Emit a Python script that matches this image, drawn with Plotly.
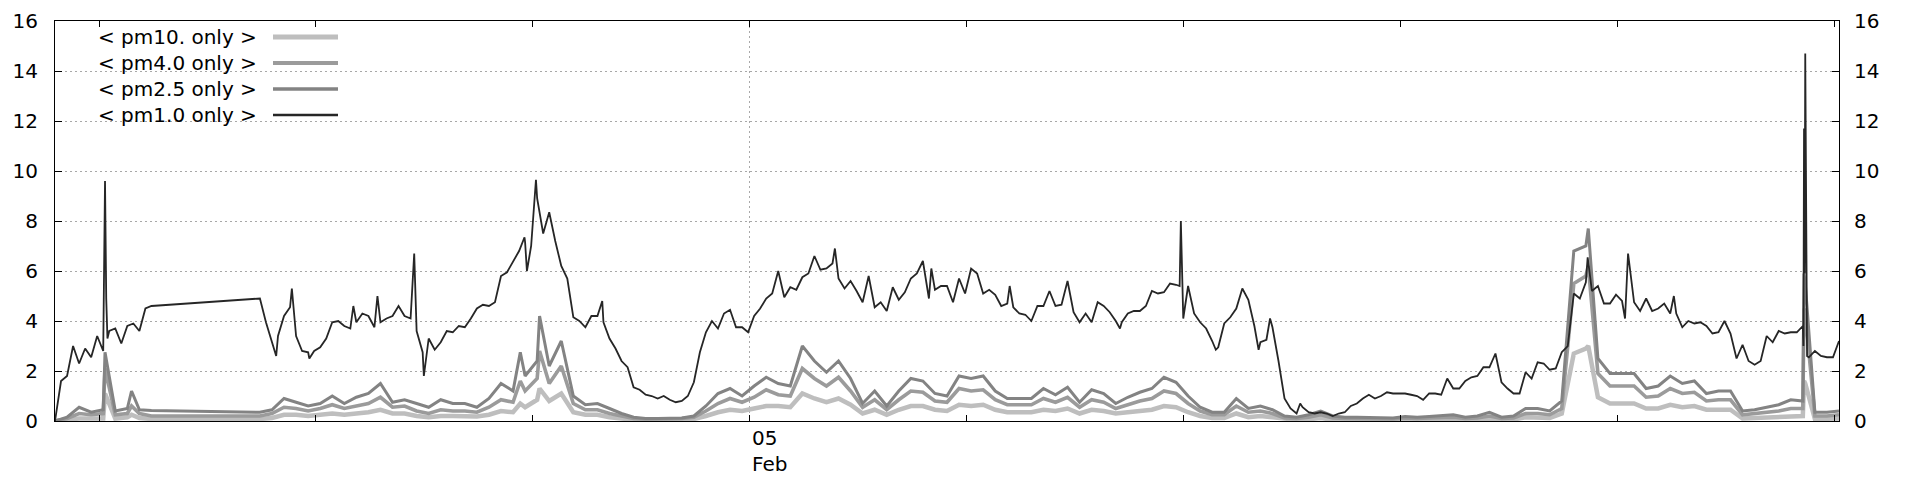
import numpy as np
import pandas as pd
import plotly.graph_objects as go

# ---------------- data ----------------
START = pd.Timestamp("2025-02-04 04:47")
END = START + pd.Timedelta(minutes=2960)

# pm1.0 sampled every 10 minutes (None = no data, gnuplot joins across)
pm1_step_min = 10
pm1_values = [
    0.0, 1.6, 1.8, 3.0, 2.3, 2.9, 2.55, 3.4, 2.8, 3.6, 3.7, 3.1, 3.8, 3.9, 3.6, 4.5, 4.6,
    None, None, 4.65, None, None, 4.7, None, None, None, 4.77, None, None, 4.83, None, None, None, None,
    4.9, 3.95, 3.1, 3.4, 4.2, 4.55, 3.4, 2.8, 2.75, 2.8, 2.95, 3.3, 3.95, 4.0, 3.8, 3.7,
    3.95, 4.3, 4.2, 3.75, 3.95, 4.1, 4.2, 4.6, 4.2,
    4.1, 3.6, 2.75, 3.3, 2.85, 3.15, 3.6, 3.55, 3.8, 3.75, 4.1, 4.5, 4.65, 4.6, 4.75, 5.8,
    5.95, 6.35, 6.8, 7.15, 7.0, 8.9, 7.5, 8.35, 7.2, 6.2, 5.7, 4.15, 4.0, 3.75, 4.2, 4.2,
    3.95, 3.3, 2.9, 2.4, 2.15, 1.35, 1.25, 1.05, 1.0, 0.9, 1.0, 0.85, 0.75, 0.8, 1.0, 1.55,
    2.75, 3.55, 4.0, 3.7, 4.3, 4.45, 3.75, 3.75, 3.55, 4.2, 4.5, 4.9,
    5.1, 6.0, 4.95, 5.35, 5.25, 5.75, 5.9, 6.6, 6.05, 6.1, 6.3, 5.7, 5.3, 5.6, 5.2, 4.75,
    5.8, 4.55, 4.75, 4.4, 5.35, 4.85, 5.15, 5.7, 5.9, 6.4, 4.9, 5.25, 5.4, 5.4, 4.75, 5.7,
    5.1, 6.1, 5.9, 5.1, 5.25, 5.05, 4.6, 4.7, 4.55, 4.3, 4.25, 4.0, 4.6, 4.6, 5.2, 4.6,
    4.65, 5.6, 4.35, 3.95, 4.3, 3.95, 4.75, 4.6, 4.35, 4.0, 3.95, 4.3,
    4.4, 4.4, 4.6, 5.2, 5.1, 5.15, 5.5, 5.45, 5.8, 5.4, 4.3, 3.95, 3.7, 3.2, 2.95, 3.9,
    4.15, 4.5, 5.3, 4.85, 3.8, 3.15, 3.25, 3.75, 2.4, 0.9, 0.5, 0.3, 0.55, 0.35, 0.3, 0.35,
    0.3, 0.2, 0.3, 0.35, 0.6, 0.7, 0.9, 1.05, 0.9, 1.0, 1.15, 1.1, 1.1, 1.1, 1.05, 1.0,
    0.85, 1.1, 1.1, 1.05, 1.7, 1.3, 1.3, 1.6, 1.75, 1.8, 2.15,
    2.15, 2.7, 1.55, 1.3, 1.1, 1.1, 1.95, 1.7, 2.35, 2.3, 2.05, 2.1, 2.75, 3.0, 5.1, 4.9,
    5.55, 5.2, 5.4, 4.7, 4.7, 5.05, 4.8, 6.7, 4.75, 4.4, 4.9, 4.4, 4.5, 4.7, 4.3, 4.3,
    3.75, 4.0, 3.9, 3.95, 3.8, 3.5, 3.55, 4.0, 3.5, 2.5, 3.05, 2.4, 2.25, 2.4, 3.4, 3.15,
    3.6, 3.5, 3.55, 3.55, 3.8, 2.55, 2.8, 2.6, 2.55, 2.55, 3.2,
]
# short spikes between the 10-minute samples (minutes after START)
pm1_extra_min = [81, 82, 83, 85, 87, 367, 393, 422, 495, 535, 596, 612, 779, 783, 798, 908,
                 1294, 1454, 1584, 1767, 1866, 1868, 1872, 1926, 1997, 2016, 2066,
                 2543, 2605, 2686, 2901, 2902, 2903, 2904, 2905, 2906, 2907]
pm1_extra_val = [4.5, 8.1, 9.6, 4.9, 3.3, 2.6, 5.3, 2.5, 4.6, 5.0, 6.7, 1.8, 7.35, 6.0, 9.65, 4.8,
                 6.9, 6.1, 5.4, 3.7, 5.4, 8.0, 4.1, 2.85, 2.85, 4.1, 0.7,
                 6.55, 4.1, 5.0, 3.0, 11.7, 5.9, 14.7, 11.6, 5.6, 2.6]

# coarser fractions sampled every 20 minutes
gray_step_min = 20
pm25_values = [
    0.0, 0.15, 0.55, 0.35, 0.45, 0.4, 0.5, 0.45, 0.42,
    None, None, None, None, None, None, None, None,
    0.35, 0.45, 0.9, 0.75, 0.6, 0.7, 1.0, 0.7, 0.95, 1.1, 1.5, 0.75, 0.85,
    0.7, 0.55, 0.85, 0.7, 0.7, 0.55, 0.9, 1.5, 1.2, 1.8, 2.4, 2.2, 3.2, 1.0, 0.65, 0.7,
    0.5, 0.3, 0.15, 0.1, 0.1, 0.1, 0.12, 0.2, 0.6, 1.1, 1.3, 1.0, 1.4, 1.75,
    1.5, 1.4, 3.0, 2.4, 1.95, 2.4, 1.7, 0.7, 1.2, 0.6, 1.2, 1.7, 1.6, 1.1, 1.0, 1.8,
    1.7, 1.8, 1.2, 0.9, 0.9, 0.9, 1.3, 1.05, 1.35, 0.75, 1.25, 1.1, 0.7,
    0.95, 1.15, 1.3, 1.75, 1.55, 1.0, 0.55, 0.35, 0.35, 0.9, 0.5, 0.6, 0.45, 0.2, 0.15, 0.25,
    0.4, 0.2, 0.15, 0.15, 0.15, 0.15, 0.12, 0.18, 0.15, 0.18, 0.2, 0.25, 0.15, 0.2,
    0.35, 0.15, 0.2, 0.5, 0.5, 0.4, 0.8, 6.8, 7.0, 2.5, 1.9, 1.9, 1.9, 1.3, 1.4, 1.8,
    1.5, 1.6, 1.1, 1.2, 1.2, 0.4, 0.45, 0.55, 0.65, 0.85, 0.8, 0.35, 0.35, 0.4,
]
pm40_values = [
    0.0, 0.1, 0.3, 0.25, 0.3, 0.25, 0.3, 0.3, 0.2,
    None, None, None, None, None, None, None, None,
    0.2, 0.3, 0.55, 0.5, 0.4, 0.5, 0.65, 0.5, 0.6, 0.7, 0.95, 0.55, 0.6,
    0.4, 0.3, 0.45, 0.4, 0.4, 0.35, 0.55, 0.85, 0.75, 1.2, 1.7, 1.5, 2.2, 0.7, 0.45, 0.45,
    0.3, 0.2, 0.1, 0.08, 0.08, 0.08, 0.1, 0.15, 0.4, 0.7, 0.9, 0.75, 0.95, 1.25,
    1.05, 1.0, 2.1, 1.7, 1.4, 1.75, 1.2, 0.55, 0.85, 0.45, 0.85, 1.2, 1.15, 0.8, 0.75, 1.3,
    1.2, 1.25, 0.85, 0.65, 0.65, 0.65, 0.9, 0.75, 0.95, 0.55, 0.85, 0.75, 0.5,
    0.65, 0.8, 0.9, 1.2, 1.1, 0.7, 0.4, 0.25, 0.25, 0.6, 0.35, 0.4, 0.3, 0.12, 0.1, 0.15,
    0.25, 0.12, 0.1, 0.1, 0.1, 0.1, 0.08, 0.12, 0.1, 0.12, 0.12, 0.15, 0.1, 0.12,
    0.2, 0.1, 0.12, 0.3, 0.3, 0.25, 0.5, 5.5, 5.8, 1.9, 1.4, 1.4, 1.4, 0.95, 1.0, 1.3,
    1.1, 1.15, 0.8, 0.85, 0.85, 0.25, 0.3, 0.35, 0.4, 0.5, 0.5, 0.2, 0.2, 0.25,
]
pm10_values = [
    0.0, 0.05, 0.1, 0.1, 0.1, 0.1, 0.15, 0.12, 0.08,
    None, None, None, None, None, None, None, None,
    0.08, 0.12, 0.25, 0.25, 0.2, 0.25, 0.3, 0.25, 0.3, 0.35, 0.45, 0.3, 0.3,
    0.2, 0.15, 0.2, 0.2, 0.2, 0.18, 0.25, 0.4, 0.35, 0.55, 0.85, 0.8, 1.1, 0.35, 0.25, 0.25,
    0.15, 0.1, 0.05, 0.05, 0.05, 0.05, 0.05, 0.08, 0.2, 0.35, 0.45, 0.4, 0.5, 0.6,
    0.6, 0.55, 1.1, 0.9, 0.75, 0.9, 0.65, 0.3, 0.45, 0.25, 0.45, 0.6, 0.6, 0.45, 0.4, 0.65,
    0.6, 0.65, 0.45, 0.35, 0.35, 0.35, 0.45, 0.4, 0.5, 0.3, 0.45, 0.4, 0.3,
    0.35, 0.4, 0.45, 0.6, 0.55, 0.35, 0.2, 0.12, 0.12, 0.3, 0.15, 0.2, 0.15, 0.06, 0.05, 0.07,
    0.12, 0.05, 0.05, 0.05, 0.05, 0.05, 0.04, 0.06, 0.05, 0.06, 0.06, 0.08, 0.05, 0.06,
    0.08, 0.05, 0.06, 0.15, 0.15, 0.12, 0.3, 2.7, 2.9, 0.95, 0.7, 0.7, 0.7, 0.5, 0.5, 0.65,
    0.55, 0.6, 0.45, 0.45, 0.45, 0.1, 0.12, 0.15, 0.15, 0.2, 0.2, 0.08, 0.08, 0.1,
]
gray_extra_min = [83, 127, 772, 804, 2544, 2902, 2904]
pm25_extra_val = [2.75, 1.2, 2.75, 4.2, 7.7, 5.9, 5.5]
pm40_extra_val = [2.1, 0.6, 1.6, 2.8, 6.2, 4.5, 4.3]
pm10_extra_val = [1.1, 0.25, 0.7, 1.3, 3.0, 1.6, 1.5]

series_names = ["< pm10. only >", "< pm4.0 only >", "< pm2.5 only >", "< pm1.0 only >"]

DAY_TICK = pd.Timestamp("2025-02-05 00:00")
minor_ticks = pd.date_range("2025-02-04 06:00", "2025-02-06 06:00", freq="6h")
y_ticks = [0, 2, 4, 6, 8, 10, 12, 14, 16]


def build(values, step, extra_min, extra_val):
    base = pd.DataFrame({"m": [i * step for i in range(len(values))], "v": values})
    ext = pd.DataFrame({"m": extra_min, "v": extra_val})
    df = pd.concat([base, ext], ignore_index=True)
    df["v"] = df["v"].astype(float)
    df = df.sort_values("m")
    df["t"] = START + pd.to_timedelta(df["m"], unit="min")
    return df


pm10_df = build(pm10_values, gray_step_min, gray_extra_min, pm10_extra_val)
pm40_df = build(pm40_values, gray_step_min, gray_extra_min, pm40_extra_val)
pm25_df = build(pm25_values, gray_step_min, gray_extra_min, pm25_extra_val)
pm1_df = build(pm1_values, pm1_step_min, pm1_extra_min, pm1_extra_val)

# ---------------- styling ----------------
FONT = "DejaVu Sans"
FS = 20
colors = ["#bebebe", "#9b9b9b", "#838383", "#262626"]
widths = [4.5, 3.6, 3.0, 1.8]
GRID = "#a8a8a8"

fig = go.Figure()
for df, name, c, w, yax in [
    (pm10_df, series_names[0], colors[0], widths[0], "y"),
    (pm40_df, series_names[1], colors[1], widths[1], "y"),
    (pm25_df, series_names[2], colors[2], widths[2], "y"),
    (pm1_df, series_names[3], colors[3], widths[3], "y2"),
]:
    fig.add_trace(go.Scatter(x=df["t"], y=df["v"], mode="lines", name=name,
                             connectgaps=True, yaxis=yax, hoverinfo="skip",
                             line=dict(color=c, width=w)))

L, R, T, B = 55, 81, 21, 59
W, H = 1920, 480
pw, ph = W - L - R, H - T - B

fig.update_layout(
    width=W, height=H,
    margin=dict(l=L, r=R, t=T, b=B, autoexpand=False),
    paper_bgcolor="white", plot_bgcolor="white",
    showlegend=False,
    font=dict(family=FONT, size=FS, color="black"),
    xaxis=dict(
        type="date", range=[START, END], automargin=False,
        tickmode="array", tickvals=[DAY_TICK], showticklabels=False,
        ticks="inside", ticklen=6, tickcolor="black", tickwidth=1,
        showline=True, linecolor="black", linewidth=1, mirror="allticks",
        showgrid=True, gridcolor=GRID, griddash="2px,3px", gridwidth=1,
        zeroline=False,
        minor=dict(tickmode="array", tickvals=list(minor_ticks), ticks="inside",
                   ticklen=6, tickcolor="black", tickwidth=1, showgrid=False),
    ),
    yaxis=dict(
        range=[0, 16], tickmode="array", tickvals=y_ticks, automargin=False,
        ticks="inside", ticklen=7, tickcolor="black",
        showline=True, linecolor="black", linewidth=1, mirror=True,
        showgrid=True, gridcolor=GRID, griddash="2px,3px", gridwidth=1,
        zeroline=False, ticklabelstandoff=12,
        tickfont=dict(family=FONT, size=FS, color="black"),
    ),
    yaxis2=dict(
        overlaying="y", side="right", range=[0, 16], tickmode="array", tickvals=y_ticks,
        automargin=False,
        ticks="inside", ticklen=7, tickcolor="black",
        showline=False, showgrid=False, zeroline=False, ticklabelstandoff=14,
        tickfont=dict(family=FONT, size=FS, color="black"),
    ),
)

# date label under the day tick (gnuplot puts it left-aligned on the tick)
fig.add_annotation(x=DAY_TICK, xref="x", y=0, yref="paper", yanchor="top",
                   xanchor="left", align="left", showarrow=False, yshift=-3,
                   text="05<br>Feb", font=dict(family=FONT, size=FS, color="black"))

# gnuplot-style key: text on the left, line sample on the right
key_rows_px = [37, 63, 89, 115]
text_right_px, samp_x0_px, samp_x1_px = 259, 273, 338
for name, c, w, ypx in zip(series_names, colors, widths, key_rows_px):
    yp = (H - B - ypx) / ph
    fig.add_annotation(x=(text_right_px - L) / pw, xref="paper", y=yp, yref="paper",
                       xanchor="right", yanchor="middle", showarrow=False, text=name,
                       font=dict(family=FONT, size=FS, color="black"))
    fig.add_shape(type="line", xref="paper", yref="paper",
                  x0=(samp_x0_px - L) / pw, x1=(samp_x1_px - L) / pw, y0=yp, y1=yp,
                  line=dict(color=c, width=w + 0.5))

fig.write_html(
    "out.html",
    config={"displayModeBar": False},
    post_script="document.body.style.margin='0';document.body.style.overflow='hidden';",
)
